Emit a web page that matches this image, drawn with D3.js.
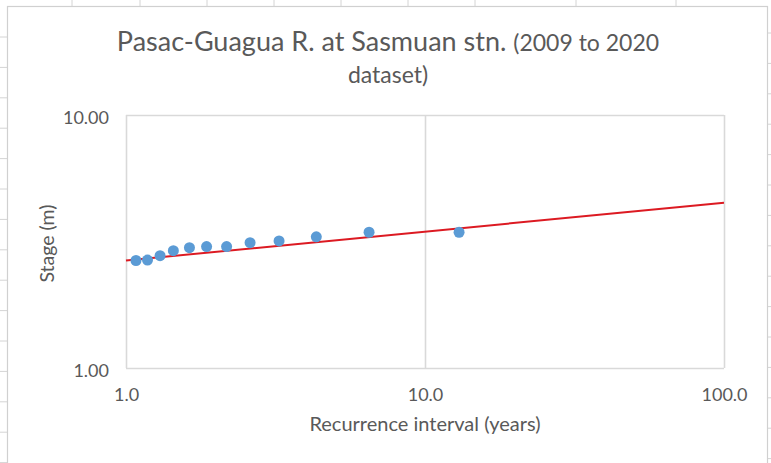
<!DOCTYPE html>
<html>
<head>
<meta charset="utf-8">
<script src="https://cdn.jsdelivr.net/npm/d3@7"></script>
<style>
  html, body { margin: 0; padding: 0; background: #ffffff; }
  svg { display: block; font-family: Lato, "Open Sans", sans-serif; }
</style>
</head>
<body>
<svg id="chart" width="771" height="463"></svg>
<script>
// Annual peak stage, ranked, with its recurrence interval (years)
const recurrence = [13.0, 6.5, 4.33, 3.25, 2.6, 2.17, 1.86, 1.63, 1.44, 1.3, 1.18, 1.08];
const stage      = [3.44, 3.44, 3.30, 3.18, 3.13, 3.02, 3.02, 2.99, 2.91, 2.78, 2.67, 2.66];

// Power-law trend line end points
const trendT     = [1, 100];
const trendStage = [2.66, 4.50];

// Axis ticks
const xTicks = [1, 10, 100];
const yTicks = [1, 10];

const titleMain = "Pasac-Guagua R. at Sasmuan stn.";
const titleSub1 = "(2009 to 2020";
const titleSub2 = "dataset)";
const xTitle = "Recurrence interval (years)";
const yTitle = "Stage (m)";

const svg = d3.select("#chart");
const W = 771, H = 463;
const textColor = "#595959";
const gridColor = "#d9d9d9";

// ---- worksheet cells behind the chart ----
const sheet = svg.append("g");
sheet.append("rect").attr("width", W).attr("height", H).attr("fill", "#ffffff");
const colLines = [72, 140, 207, 274, 341, 408, 475, 576, 676];
const rowLines = d3.range(37, H, 30.4);
sheet.selectAll(".col").data(colLines).join("line")
  .attr("x1", d => d).attr("x2", d => d).attr("y1", 0).attr("y2", 6)
  .attr("stroke", "#d4d4d4").attr("stroke-width", 1);
sheet.selectAll(".rowL").data(rowLines).join("line")
  .attr("x1", 0).attr("x2", 7).attr("y1", d => d).attr("y2", d => d)
  .attr("stroke", "#d4d4d4").attr("stroke-width", 1);
sheet.selectAll(".rowR").data(rowLines).join("line")
  .attr("x1", 768).attr("x2", W).attr("y1", d => d - 4).attr("y2", d => d - 4)
  .attr("stroke", "#d4d4d4").attr("stroke-width", 1);

// chart area
svg.append("rect")
  .attr("x", 7.5).attr("y", 6.5).attr("width", 760).attr("height", H)
  .attr("fill", "#ffffff").attr("stroke", "#d0d0d0").attr("stroke-width", 1.2);

// ---- plot area ----
const plot = { left: 126, right: 724, top: 115, bottom: 368 };
const x = d3.scaleLog().domain([1, 100]).range([plot.left, plot.right]);
const y = d3.scaleLog().domain([1, 10]).range([plot.bottom, plot.top]);

// vertical gridlines
svg.append("g")
  .attr("transform", `translate(0,${plot.bottom})`)
  .call(d3.axisBottom(x).tickValues(xTicks).tickSize(-(plot.bottom - plot.top)).tickFormat(""))
  .call(g => g.select(".domain").remove())
  .call(g => g.selectAll("line").attr("stroke", gridColor).attr("stroke-width", 1.6));

// horizontal gridlines
svg.append("g")
  .attr("transform", `translate(${plot.left},0)`)
  .call(d3.axisLeft(y).tickValues(yTicks).tickSize(-(plot.right - plot.left)).tickFormat(""))
  .call(g => g.select(".domain").remove())
  .call(g => g.selectAll("line").attr("stroke", gridColor).attr("stroke-width", 1.6));

// x tick labels
svg.append("g")
  .attr("transform", `translate(0,${plot.bottom})`)
  .call(d3.axisBottom(x).tickValues(xTicks).tickSize(0).tickPadding(20).tickFormat(d3.format(".1f")))
  .call(g => g.select(".domain").remove())
  .call(g => g.selectAll("text")
    .attr("fill", textColor).attr("font-size", 18).attr("font-family", "Lato"));

// y tick labels
svg.append("g")
  .attr("transform", `translate(109,2.5)`)
  .call(d3.axisLeft(y).tickValues(yTicks).tickSize(0).tickPadding(0).tickFormat(d3.format(".2f")))
  .call(g => g.select(".domain").remove())
  .call(g => g.selectAll("text")
    .attr("fill", textColor).attr("font-size", 18).attr("font-family", "Lato"));

// trend line
const line = d3.line().x(d => x(d[0])).y(d => y(d[1]));
svg.append("path")
  .datum(d3.zip(trendT, trendStage))
  .attr("d", line)
  .attr("fill", "none")
  .attr("stroke", "#dc1a22")
  .attr("stroke-width", 2);

// observed points
svg.append("g").selectAll("circle")
  .data(d3.zip(recurrence, stage))
  .join("circle")
  .attr("cx", d => x(d[0]))
  .attr("cy", d => y(d[1]))
  .attr("r", 5.5)
  .attr("fill", "#5b9bd5");

// ---- titles ----
const title = svg.append("text")
  .attr("x", 388).attr("y", 51)
  .attr("text-anchor", "middle")
  .attr("fill", textColor);
title.append("tspan").attr("font-size", 27).text(titleMain + " ");
title.append("tspan").attr("font-size", 23).text(titleSub1);

svg.append("text")
  .attr("x", 388).attr("y", 83)
  .attr("text-anchor", "middle")
  .attr("fill", textColor)
  .attr("font-size", 23)
  .text(titleSub2);

svg.append("text")
  .attr("x", (plot.left + plot.right) / 2).attr("y", 431)
  .attr("text-anchor", "middle")
  .attr("fill", textColor)
  .attr("font-size", 20)
  .text(xTitle);

svg.append("text")
  .attr("transform", `translate(54,${(plot.top + plot.bottom) / 2 + 2}) rotate(-90)`)
  .attr("text-anchor", "middle")
  .attr("fill", textColor)
  .attr("font-size", 19.5)
  .text(yTitle);
</script>
</body>
</html>
